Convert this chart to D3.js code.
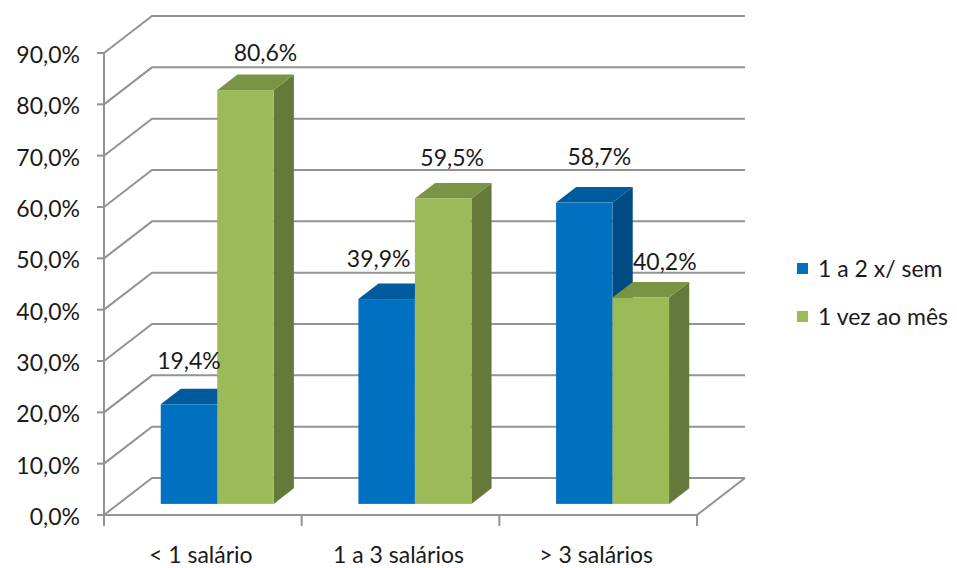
<!DOCTYPE html>
<html>
<head>
<meta charset="utf-8">
<script src="https://cdn.jsdelivr.net/npm/d3@7"></script>
<style>
  html, body { margin: 0; padding: 0; background: #fff; }
  svg { display: block; }
  text { font-family: Lato, "Open Sans", sans-serif; fill: #1a1a1a; }
</style>
</head>
<body>
<svg id="chart" width="957" height="568"></svg>
<script>
// Frequência por faixa salarial
const categories = ["< 1 salário", "1 a 3 salários", "> 3 salários"];
const seriesNames = ["1 a 2 x/ sem", "1 vez ao mês"];
const serieSemana = [19.4, 39.9, 58.7];
const serieMes = [80.6, 59.5, 40.2];
const yTicks = [0, 10, 20, 30, 40, 50, 60, 70, 80, 90];

const fmt = v => d3.format(".1f")(v).replace(".", ",") + "%";

// colours: front, top, side
const palette = [
  { front: "#0070C0", top: "#005A9E", side: "#004B84" },
  { front: "#9BBB59", top: "#7A9446", side: "#65793A" }
];

const svg = d3.select("#chart");
const fontSize = 23;

// plot frame (front plane) and 3D depth offset
const plotLeft = 104, plotRight = 697, plotBottom = 515, plotTop = 53;
const depthX = 48, depthY = -37;

const x = d3.scaleBand().domain(categories).range([plotLeft, plotRight]).padding(0);
const y = d3.scaleLinear().domain([0, 90]).range([plotBottom, plotTop]);
const inner = d3.scaleBand().domain(seriesNames).range([0, 113]).padding(0);

// projection of a front-plane point pushed back by depth fraction d
const P = (px, py, d) => [px + depthX * d, py + depthY * d];

const gridColor = "#939393";
const grid = svg.append("g").attr("stroke", gridColor).attr("stroke-width", 2).attr("fill", "none");

// side wall and back wall lines
yTicks.forEach(t => {
  const a = P(plotLeft, y(t), 0), b = P(plotLeft, y(t), 1), c = P(plotRight, y(t), 1);
  grid.append("path").attr("d", d3.line()([a, b, c]));
});
// floor right edge
grid.append("path").attr("d", d3.line()([P(plotRight, y(0), 0), P(plotRight, y(0), 1)]));

// front axes
const axes = svg.append("g").attr("stroke", gridColor).attr("stroke-width", 2).attr("fill", "none");
axes.append("line").attr("x1", plotLeft).attr("x2", plotLeft).attr("y1", y(90)).attr("y2", y(0) + 11);
axes.append("line").attr("x1", plotLeft - 7).attr("x2", plotRight).attr("y1", y(0)).attr("y2", y(0));
yTicks.forEach(t => {
  axes.append("line").attr("x1", plotLeft - 7).attr("x2", plotLeft).attr("y1", y(t)).attr("y2", y(t));
});
categories.forEach(c => {
  const xe = x(c) + x.bandwidth();
  axes.append("line").attr("x1", xe).attr("x2", xe).attr("y1", y(0)).attr("y2", y(0) + 11);
});

// y tick labels
svg.append("g").selectAll("text").data(yTicks).join("text")
  .attr("x", 80).attr("y", d => y(d) + 10)
  .attr("text-anchor", "end")
  .attr("font-size", fontSize)
  .text(fmt);

// x category labels
svg.append("g").selectAll("text").data(categories).join("text")
  .attr("x", d => x(d) + x.bandwidth() / 2 - 2).attr("y", 563)
  .attr("text-anchor", "middle")
  .attr("font-size", fontSize)
  .text(d => d);

// bars
const d0 = 0.3, d1 = 0.72;
const series = [serieSemana, serieMes];
// label offsets relative to the bar's front face centre / back top edge
const labelNudgeX = [[0, -8, 15], [20, 9, 24]];
const labelNudgeY = [[-3, 0, -5], [3, 0, 5]];
const bars = svg.append("g");
const labels = svg.append("g");
categories.forEach((c, ci) => {
  series.forEach((vals, si) => {
    const v = vals[ci];
    const bw = inner.bandwidth();
    const x0 = x(c) + (x.bandwidth() - inner.range()[1]) / 2 + inner(seriesNames[si]);
    const x1 = x0 + bw;
    const yt = y(v), yb = y(0);
    const col = palette[si];
    const g = bars.append("g");
    // right side
    g.append("path").attr("fill", col.side)
      .attr("d", d3.line()([P(x1, yt, d0), P(x1, yt, d1), P(x1, yb, d1), P(x1, yb, d0)]) + "Z");
    // top
    g.append("path").attr("fill", col.top)
      .attr("d", d3.line()([P(x0, yt, d0), P(x0, yt, d1), P(x1, yt, d1), P(x1, yt, d0)]) + "Z");
    // front
    const f0 = P(x0, yt, d0), f1 = P(x1, yb, d0);
    g.append("rect").attr("fill", col.front)
      .attr("x", f0[0]).attr("y", f0[1]).attr("width", f1[0] - f0[0]).attr("height", f1[1] - f0[1]);
    // value label
    const cx = P((x0 + x1) / 2, yt, d0)[0];
    const backTop = P(x0, yt, d1)[1];
    labels.append("text")
      .attr("x", cx + labelNudgeX[si][ci]).attr("y", backTop - 17 + labelNudgeY[si][ci])
      .attr("text-anchor", "middle")
      .attr("font-size", fontSize)
      .text(fmt(v));
  });
});

// legend
const legend = svg.append("g");
seriesNames.forEach((n, i) => {
  const ly = 269 + i * 48;
  legend.append("rect").attr("x", 797).attr("y", ly - 6).attr("width", 11).attr("height", 11)
    .attr("fill", palette[i].front);
  legend.append("text").attr("x", 818).attr("y", ly + 8).attr("font-size", fontSize).text(n);
});
</script>
</body>
</html>
